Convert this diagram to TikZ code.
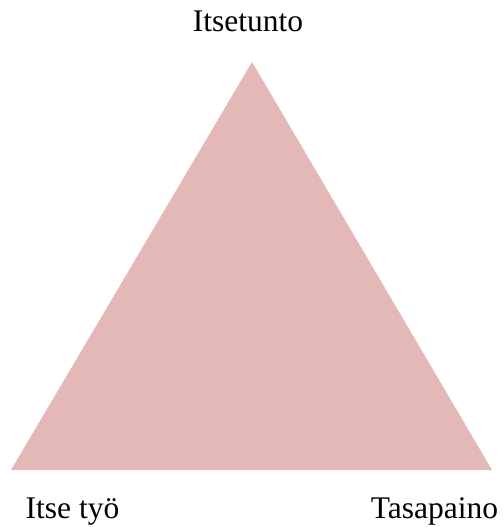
\documentclass[tikz,border=0pt]{standalone}
\usepackage{fontspec}
\setmainfont{Liberation Serif}
\usepackage{tikz}
\usetikzlibrary{positioning}
\definecolor{trianglepink}{RGB}{229,184,184}

\begin{document}
\begin{tikzpicture}[
  x=1pt, y=-1pt,
  corner/.style={font=\fontsize{31.5}{38}\selectfont, anchor=base, inner sep=0pt},
  area/.style={fill=trianglepink, draw=none},
]
\useasboundingbox (0,0) rectangle (503,527);

\coordinate (top) at (252,62);
\coordinate (left) at (11,470);
\coordinate (right) at (492,470);

\fill[area] (top) -- (left) -- (right) -- cycle;

\node[corner] (esteem) at (248,32) {Itsetunto};
\node[corner] (work) at (72.5,518) {Itse työ};
\node[corner] (balance) at (434.5,518) {Tasapaino};
\end{tikzpicture}
\end{document}
